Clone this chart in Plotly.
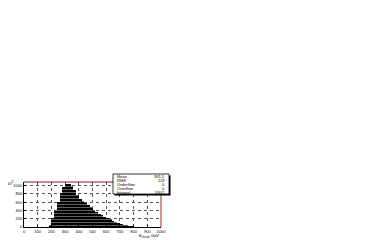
import plotly.graph_objects as go

bin_centers = [190, 210, 230, 250, 270, 290, 310, 330, 350, 370, 390, 410, 430, 450,
               470, 490, 510, 530, 550, 570, 590, 610, 630, 650, 670, 690, 710, 730,
               750, 770, 790]
counts = [30, 220, 380, 600, 820, 980, 1040, 1045, 1000, 890, 770, 690, 630, 580,
          530, 480, 420, 370, 320, 280, 245, 215, 185, 155, 125, 100, 75, 55,
          35, 20, 8]
x_ticks = [0, 100, 200, 300, 400, 500, 600, 700, 800, 900, 1000]
y_ticks = [0, 200, 400, 600, 800, 1000]
stat_names = ["Mean", "RMS", "Underflow", "Overflow", "Integral"]
stat_values = ["391.5", "118", "0", "0", "3307"]

OFF = 8  # page body margin


def px(x):
    return (x - OFF) / 392


def py(y):
    return 1 - (y - OFF) / 240


fig = go.Figure()
fig.add_trace(go.Bar(
    x=bin_centers, y=counts, width=20,
    marker=dict(color="black", line=dict(width=0),
                pattern=dict(shape="-", fgcolor="white", bgcolor="black",
                             size=3, solidity=0.25)),
    showlegend=False,
))

x0, x1 = px(24), px(161)
y0, y1 = py(227), py(182)
fig.update_layout(
    width=392, height=240,
    margin=dict(l=0, r=0, t=0, b=0),
    paper_bgcolor="white", plot_bgcolor="white",
    bargap=0,
    font=dict(family="Liberation Sans", size=4, color="black"),
    xaxis=dict(domain=[x0, x1], range=[0, 1000], tickvals=x_ticks,
               ticktext=[str(v) for v in x_ticks],
               showgrid=True, gridcolor="#555", griddash="dot", gridwidth=0.5,
               showline=True, linecolor="black", linewidth=1,
               ticks="inside", ticklen=2, tickcolor="black",
               zeroline=False, automargin=False, tickfont=dict(size=4)),
    yaxis=dict(domain=[y0, y1], range=[0, 1090], tickvals=y_ticks,
               ticktext=[str(v) for v in y_ticks],
               showgrid=True, gridcolor="#555", griddash="dot", gridwidth=0.5,
               showline=True, linecolor="black", linewidth=1,
               ticks="inside", ticklen=2, tickcolor="black",
               zeroline=False, automargin=False, tickfont=dict(size=4)),
)
# top and right frame in red
fig.add_shape(type="line", xref="paper", yref="paper", x0=x0, x1=x1, y0=y1, y1=y1,
              line=dict(color="#8b1a1a", width=1))
fig.add_shape(type="line", xref="paper", yref="paper", x0=x1, x1=x1, y0=y0, y1=y1,
              line=dict(color="#b22222", width=1))

# y multiplier label
fig.add_annotation(xref="paper", yref="paper", x=px(15), y=py(183),
                   text="10<sup>3</sup>", showarrow=False, font=dict(size=4),
                   xanchor="right", yanchor="middle")
# x title
fig.add_annotation(xref="paper", yref="paper", x=px(161), y=py(235.5),
                   text="E<sub>cluster</sub> GeV", showarrow=False, font=dict(size=4),
                   xanchor="right", yanchor="middle")

# stats box with shadow
bx0, bx1 = px(113), px(169)
by0, by1 = py(194), py(174)
fig.add_shape(type="rect", xref="paper", yref="paper",
              x0=bx0 + 1.5 / 392, x1=bx1 + 1.5 / 392, y0=by0 - 1.5 / 240, y1=by1 - 1.5 / 240,
              fillcolor="black", line=dict(width=0))
fig.add_shape(type="rect", xref="paper", yref="paper",
              x0=bx0, x1=bx1, y0=by0, y1=by1,
              fillcolor="white", line=dict(color="black", width=0.8))
row_h = (by1 - by0) / len(stat_names)
for i, (n, v) in enumerate(zip(stat_names, stat_values)):
    yy = by1 - row_h * (i + 0.5)
    fig.add_annotation(xref="paper", yref="paper", x=bx0 + 2 / 392, y=yy, text=n,
                       showarrow=False, xanchor="left", yanchor="middle",
                       font=dict(size=4))
    fig.add_annotation(xref="paper", yref="paper", x=bx1 - 2 / 392, y=yy, text=v,
                       showarrow=False, xanchor="right", yanchor="middle",
                       font=dict(size=4))

fig.write_html("out.html")
